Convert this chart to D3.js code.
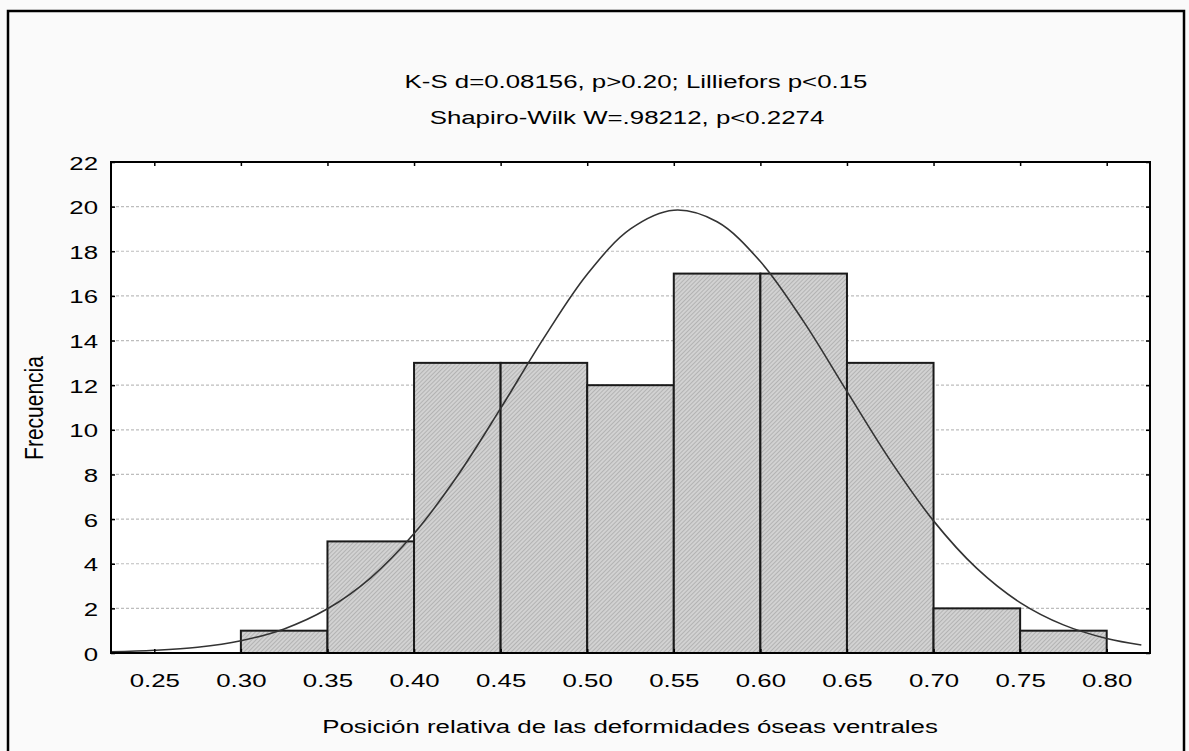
<!DOCTYPE html>
<html>
<head>
<meta charset="utf-8">
<script src="https://cdn.jsdelivr.net/npm/d3@7"></script>
<style>
  html, body { margin: 0; padding: 0; background: #ffffff; }
  svg { display: block; }
  text { font-family: "Liberation Sans", Arial, sans-serif; fill: #000; }
</style>
</head>
<body>
<svg id="chart" width="1189" height="751"></svg>
<script>
// ---- data ----
const binStarts = [0.25, 0.30, 0.35, 0.40, 0.45, 0.50, 0.55, 0.60, 0.65, 0.70, 0.75];
const binWidth = 0.05;
const counts = [0, 1, 5, 13, 13, 12, 17, 17, 13, 2, 1];
const curveX = [0.225, 0.25, 0.275, 0.30, 0.325, 0.35, 0.375, 0.40, 0.425, 0.45, 0.475, 0.50,
                0.525, 0.55, 0.575, 0.60, 0.625, 0.65, 0.675, 0.70, 0.725, 0.75, 0.775, 0.80, 0.82];
const curveY = [0.05, 0.12, 0.26, 0.55, 1.08, 1.98, 3.37, 5.35, 7.93, 10.96, 14.12, 16.97,
                19.0, 19.84, 19.32, 17.54, 14.85, 11.72, 8.63, 5.92, 3.79, 2.26, 1.26, 0.65, 0.36];
const xTicks = [0.25, 0.30, 0.35, 0.40, 0.45, 0.50, 0.55, 0.60, 0.65, 0.70, 0.75, 0.80];
const yTicks = [0, 2, 4, 6, 8, 10, 12, 14, 16, 18, 20, 22];
const titleLines = ["K-S d=0.08156, p>0.20; Lilliefors p<0.15", "Shapiro-Wilk W=.98212, p<0.2274"];
const xLabel = "Posición relativa de las deformidades óseas ventrales";
const yLabel = "Frecuencia";

// ---- layout ----
const SX = 1.36;       // horizontal text stretch seen in the reference
const FS = 19;
const plot = { left: 111, top: 162, right: 1150, bottom: 653 };

const svg = d3.select("#chart");

// backgrounds
svg.append("rect").attr("x", 0).attr("y", 0).attr("width", 1189).attr("height", 751).attr("fill", "#fafafa");
svg.append("rect").attr("x", 8).attr("y", 11).attr("width", 1176).attr("height", 760)
  .attr("fill", "#fafafa").attr("stroke", "#000").attr("stroke-width", 2.5);

const x = d3.scaleLinear().domain([0.225, 0.825]).range([plot.left, plot.right]);
const y = d3.scaleLinear().domain([0, 22]).range([plot.bottom, plot.top]);

// hatch pattern
const defs = svg.append("defs");
const pat = defs.append("pattern").attr("id", "hatch").attr("patternUnits", "userSpaceOnUse")
  .attr("width", 3).attr("height", 3).attr("patternTransform", "rotate(45)");
pat.append("rect").attr("width", 3).attr("height", 3).attr("fill", "#d2d2d2");
pat.append("line").attr("x1", 0).attr("y1", 0).attr("x2", 0).attr("y2", 3)
  .attr("stroke", "#9e9e9e").attr("stroke-width", 1.2);

// plot area
svg.append("rect").attr("x", plot.left).attr("y", plot.top)
  .attr("width", plot.right - plot.left).attr("height", plot.bottom - plot.top).attr("fill", "#fff");

// grid
svg.append("g").selectAll("line").data(yTicks.filter(d => d > 0 && d < 22)).join("line")
  .attr("x1", plot.left).attr("x2", plot.right)
  .attr("y1", d => y(d)).attr("y2", d => y(d))
  .attr("stroke", "#bdbdbd").attr("stroke-width", 1.2).attr("stroke-dasharray", "3,2");

// bars
svg.append("g").selectAll("rect").data(binStarts).join("rect")
  .attr("x", d => x(d))
  .attr("width", d => x(d + binWidth) - x(d))
  .attr("y", (d, i) => y(counts[i]))
  .attr("height", (d, i) => y(0) - y(counts[i]))
  .attr("fill", "url(#hatch)")
  .attr("stroke", "#1a1a1a").attr("stroke-width", 2);

// normal curve
const line = d3.line().x(d => x(d[0])).y(d => y(d[1])).curve(d3.curveCatmullRom);
svg.append("path").datum(curveX.map((v, i) => [v, curveY[i]]))
  .attr("d", line).attr("fill", "none").attr("stroke", "#333").attr("stroke-width", 1.6);

// axes (inward ticks)
const gx = svg.append("g").attr("transform", `translate(0,${plot.bottom})`)
  .call(d3.axisBottom(x).tickValues(xTicks).tickSize(-4).tickFormat(d3.format(".2f")).tickPadding(0));
gx.select(".domain").remove();
gx.selectAll(".tick line").attr("stroke", "#000").attr("stroke-width", 1.5);
gx.selectAll(".tick text").attr("y", null).attr("dy", null)
  .attr("transform", `translate(0,34) scale(${SX},1)`)
  .style("font-size", FS + "px");

const gxt = svg.append("g").attr("transform", `translate(0,${plot.top})`)
  .call(d3.axisTop(x).tickValues(xTicks).tickSize(-4).tickFormat(""));
gxt.select(".domain").remove();
gxt.selectAll(".tick line").attr("stroke", "#000").attr("stroke-width", 1.5);

const gy = svg.append("g").attr("transform", `translate(${plot.left},0)`)
  .call(d3.axisLeft(y).tickValues(yTicks).tickSize(-4).tickPadding(0));
gy.select(".domain").remove();
gy.selectAll(".tick line").attr("stroke", "#000").attr("stroke-width", 1.5);
gy.selectAll(".tick text").attr("x", null).attr("dy", null)
  .attr("transform", `translate(-13,7) scale(${SX},1)`)
  .style("font-size", FS + "px");

const gyr = svg.append("g").attr("transform", `translate(${plot.right},0)`)
  .call(d3.axisRight(y).tickValues(yTicks).tickSize(-4).tickFormat(""));
gyr.select(".domain").remove();
gyr.selectAll(".tick line").attr("stroke", "#000").attr("stroke-width", 1.5);

// frame
svg.append("rect").attr("x", plot.left).attr("y", plot.top)
  .attr("width", plot.right - plot.left).attr("height", plot.bottom - plot.top)
  .attr("fill", "none").attr("stroke", "#000").attr("stroke-width", 2);

// texts
function stretchedText(tx, ty, str, sx, fs, rot) {
  svg.append("text")
    .attr("transform", `translate(${tx},${ty}) scale(${sx},1)` + (rot ? ` rotate(${rot})` : ""))
    .attr("text-anchor", "middle")
    .style("font-size", fs + "px")
    .text(str);
}
stretchedText(636, 88, titleLines[0], SX, FS);
stretchedText(627, 124, titleLines[1], SX, FS);
stretchedText(630, 733, xLabel, SX, FS);
stretchedText(43, 408, yLabel, 1.2, 21, -90);
</script>
</body>
</html>
